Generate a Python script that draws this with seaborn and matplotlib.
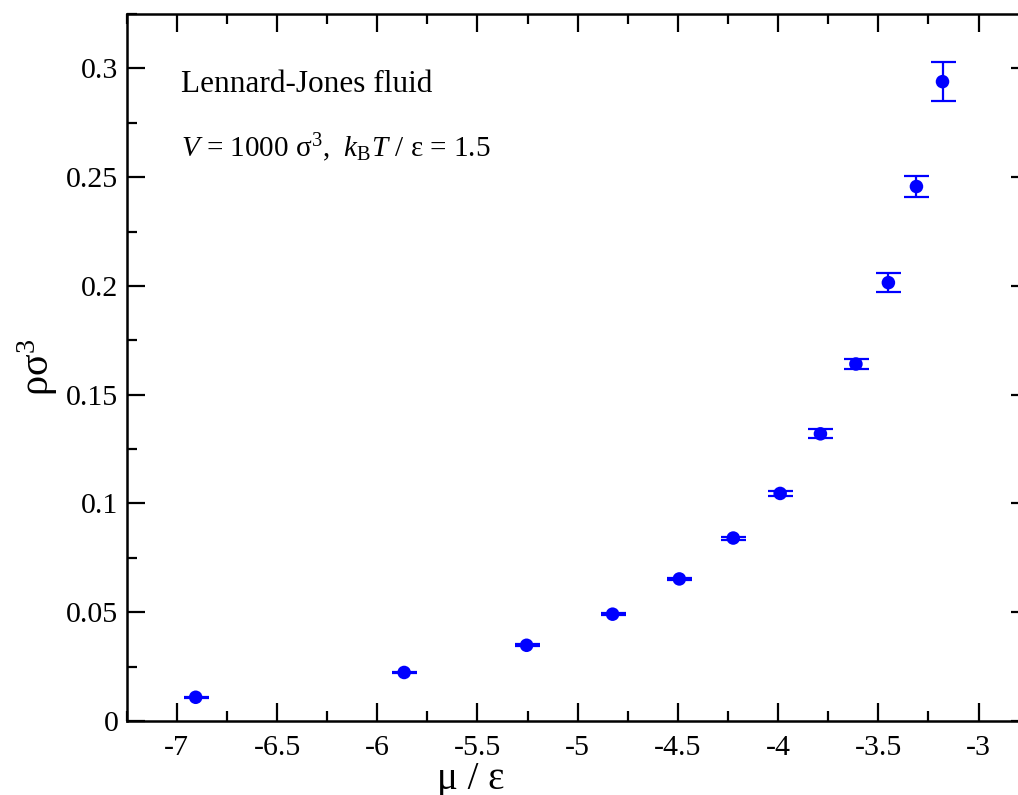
import matplotlib
matplotlib.use("Agg")
import matplotlib.pyplot as plt
from matplotlib.ticker import MultipleLocator
import seaborn as sns
import pandas as pd

# Datos
mu = [-6.906, -5.866, -5.255, -4.826, -4.493, -4.224, -3.99, -3.789, -3.612, -3.45, -3.31, -3.18]
rho = [0.0109, 0.0223, 0.0348, 0.0491, 0.0653, 0.0841, 0.1046, 0.132, 0.1641, 0.2015, 0.2457, 0.2939]
err = [0.0003, 0.0004, 0.0005, 0.0005, 0.0006, 0.0007, 0.0010, 0.0020, 0.0021, 0.0045, 0.0047, 0.0090]

x_ticks = [-7, -6.5, -6, -5.5, -5, -4.5, -4, -3.5, -3]
x_labels = ["-7", "-6.5", "-6", "-5.5", "-5", "-4.5", "-4", "-3.5", "-3"]
y_ticks = [0, 0.05, 0.1, 0.15, 0.2, 0.25, 0.3]
y_labels = ["0", "0.05", "0.1", "0.15", "0.2", "0.25", "0.3"]

df = pd.DataFrame({"mu": mu, "rho": rho, "err": err})

sns.set_theme(style="ticks")
plt.rcParams["font.family"] = ["Liberation Serif", "DejaVu Serif"]
plt.rcParams["mathtext.fontset"] = "custom"
plt.rcParams["mathtext.rm"] = "Liberation Serif"
plt.rcParams["mathtext.it"] = "Liberation Serif:italic"
# Todo el texto en negro (seaborn pone gris oscuro)
plt.rcParams["text.color"] = "black"
plt.rcParams["axes.labelcolor"] = "black"
plt.rcParams["xtick.color"] = "black"
plt.rcParams["ytick.color"] = "black"

fig = plt.figure(figsize=(10.18, 7.95), dpi=100)
ax = fig.add_axes([0.1245, 0.0931, 0.886, 0.8893])

# Barras de error y puntos
ax.errorbar(df["mu"], df["rho"], yerr=df["err"], fmt="none", ecolor="#0000ff",
            elinewidth=1.6, capsize=9, capthick=1.6, zorder=2)
sns.scatterplot(data=df, x="mu", y="rho", ax=ax, color="#0000ff", s=95,
                edgecolor="none", zorder=3, legend=False)

ax.set_xlim(-7.25, -2.75)
ax.set_ylim(0, 0.325)
ax.set_xticks(x_ticks)
ax.set_xticklabels(x_labels)
ax.set_yticks(y_ticks)
ax.set_yticklabels(y_labels)
ax.xaxis.set_minor_locator(MultipleLocator(0.25))
ax.yaxis.set_minor_locator(MultipleLocator(0.025))

ax.tick_params(which="both", direction="in", top=True, right=True, width=1.6,
               colors="black", labelcolor="black")
ax.tick_params(which="major", length=13, labelsize=21.5)
ax.tick_params(which="minor", length=7)
ax.tick_params(axis="x", which="major", pad=10)
ax.tick_params(axis="y", which="major", pad=6)
for s in ax.spines.values():
    s.set_linewidth(1.8)
    s.set_color("black")

ax.set_xlabel("μ / ε", fontsize=28, color="black")
ax.xaxis.set_label_coords(0.381, -0.057)
ax.set_ylabel(r"$\mathrm{ρσ}^{3}$", fontsize=29, color="black")
ax.yaxis.set_label_coords(-0.074, 0.5)

ax.text(0.060, 0.889, "Lennard-Jones fluid", transform=ax.transAxes,
        fontsize=22.5, va="baseline", ha="left", color="black")
ax.text(0.060, 0.798, r"$V$ = 1000 $\mathrm{σ}^{3}$,  $k_\mathrm{B}T$ / ε = 1.5",
        transform=ax.transAxes, fontsize=21, va="baseline", ha="left", color="black")

fig.savefig("out.png", dpi=100)
